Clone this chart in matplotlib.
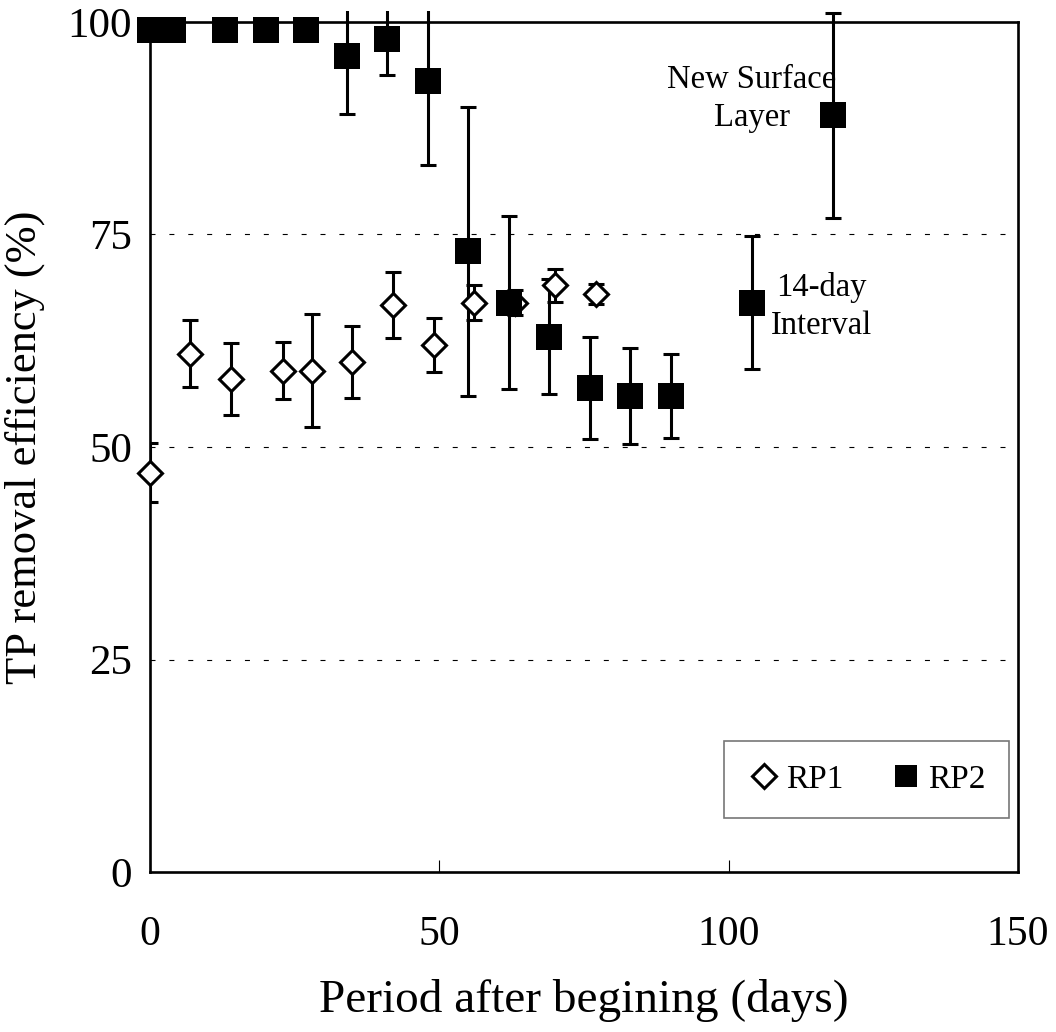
"""
TP removal efficiency of RP1 and RP2 over time.
"""

import matplotlib
matplotlib.use("Agg")
import matplotlib.pyplot as plt
from matplotlib.patches import Rectangle

plt.rcParams["font.family"] = ["Liberation Serif", "DejaVu Serif"]

# RP1 (open diamonds)
rp1_days = [0, 7, 14, 23, 28, 35, 42, 49, 56, 63, 70, 77]
rp1_eff = [47, 61, 58, 59, 59, 60, 66.7, 62, 67, 67, 69, 68]
rp1_err = [3.5, 3.9, 4.2, 3.4, 6.6, 4.2, 3.9, 3.2, 2.0, 1.5, 1.9, 1.2]

# RP2 (filled squares)
rp2_days = [0, 4, 13, 20, 27, 34, 41, 48, 55, 62, 69, 76, 83, 90, 104, 118]
rp2_eff = [99, 99, 99, 99, 99, 96, 98, 93, 73, 67, 63, 57, 56, 56, 67, 89]
rp2_err = [0.5, 0.5, 0.5, 0.5, 0.5, 6.8, 4.2, 9.8, 17, 10.2, 6.8, 6, 5.6, 4.9, 7.8, 12.1]

fig = plt.figure(figsize=(10.56, 10.32), dpi=100)
ax = fig.add_axes([0.142, 0.155, 0.822, 0.8237])

# error bars may poke a little above the top of the plot area
clip = Rectangle((0, 0), 1, 1.013, transform=ax.transAxes)
for d, v, e in [(rp1_days, rp1_eff, rp1_err), (rp2_days, rp2_eff, rp2_err)]:
    eb = ax.errorbar(d, v, yerr=e, fmt="none", ecolor="black", elinewidth=2.2,
                     capsize=5.5, capthick=2.2, zorder=3)
    for art in list(eb[1]) + list(eb[2]):
        art.set_clip_path(clip)

ax.plot(rp1_days, rp1_eff, "D", ms=12, mfc="white", mec="black", mew=2.2,
        ls="none", label="RP1", zorder=4, clip_on=False)
ax.plot(rp2_days, rp2_eff, "s", ms=19, mfc="black", mec="black", mew=0,
        ls="none", label="RP2", zorder=5, clip_on=False)

ax.set_xlim(0, 150)
ax.set_ylim(0, 100)
ax.set_xticks([0, 50, 100, 150])
ax.set_yticks([0, 25, 50, 75, 100])
for y in [25, 50, 75]:
    ax.axhline(y, color="black", lw=0.8, ls=(0, (4.5, 12.5)), zorder=1)

ax.tick_params(axis="x", direction="in", length=9, width=0.8, labelsize=30, pad=31)
ax.tick_params(axis="y", length=0, labelsize=31, pad=13)
for s in ax.spines.values():
    s.set_linewidth(1.9)

ax.set_xlabel("Period after begining (days)", fontsize=34, labelpad=18)
ax.set_ylabel("TP removal efficiency (%)", fontsize=32, labelpad=16)

ax.text(104, 91, "New Surface\nLayer", fontsize=23.5, ha="center", va="center",
        linespacing=1.3)
ax.text(116, 66.5, "14-day\nInterval", fontsize=23.5, ha="center", va="center",
        linespacing=1.3)

leg = ax.legend(loc="lower right", bbox_to_anchor=(0.9896, 0.0635), ncol=2,
                fontsize=24, frameon=True, fancybox=False, markerscale=1.0,
                handletextpad=0.15, columnspacing=1.4, borderpad=0.7,
                handlelength=1.0, borderaxespad=0)
leg.legend_handles[1].set_markersize(16.5)
leg.get_frame().set_edgecolor("#555555")
leg.get_frame().set_linewidth(1.2)

plt.savefig("out.png", dpi=100)
